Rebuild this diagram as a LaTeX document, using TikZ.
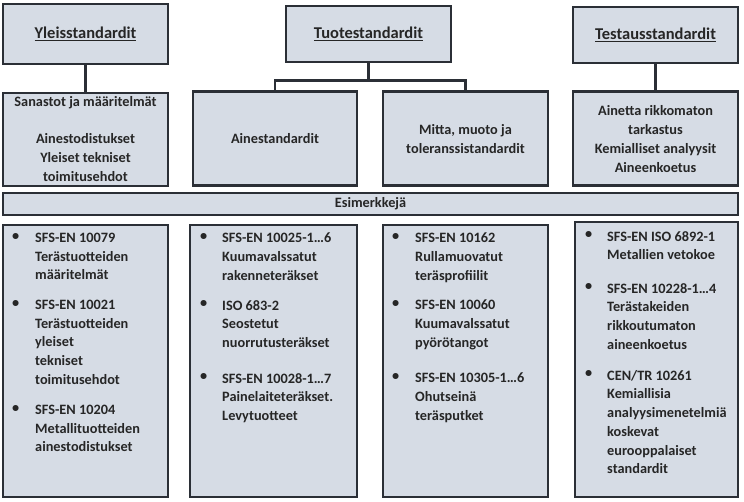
\documentclass[tikz,border=0pt]{standalone}
\usepackage{fontspec}
\setmainfont{Carlito}
\definecolor{bfill}{HTML}{D6DCE5}
\definecolor{bdraw}{HTML}{2B2F36}
\begin{document}
\begin{tikzpicture}[x=1pt,y=-1pt,
  box/.style={draw=bdraw,fill=bfill,line width=2.6pt,inner sep=0pt},
  conn/.style={draw=bdraw,line width=2.6pt},
  txt/.style={inner sep=0pt,font=\bfseries\fontsize{14.3}{18.7}\selectfont,text=black!85},
  ttl/.style={inner sep=0pt,font=\bfseries\fontsize{16.5}{18}\selectfont,text=black!85},
  itm/.style={txt,anchor=north west,align=left},
  bul/.style={txt,anchor=north west}]
\useasboundingbox (0,0) rectangle (744,502);
% top row
\node[box,minimum width=165,minimum height=60] (yl) at (85.5,34) {};
\node[box,minimum width=165,minimum height=56] (tu) at (368.5,34) {};
\node[box,minimum width=165,minimum height=56] (te) at (655.5,35) {};
\node[ttl] (ylt) at (yl.center) {\underline{Yleisstandardit}};
\node[ttl] (tut) at (tu.center) {\underline{Tuotestandardit}};
\node[ttl] (tet) at (te.center) {\underline{Testausstandardit}};
% middle row
\node[box,minimum width=165,minimum height=93] (m1) at (85.5,139.5) {};
\node[box,minimum width=164,minimum height=94] (m2) at (275,138.5) {};
\node[box,minimum width=165,minimum height=94] (m3) at (465.5,138.5) {};
\node[box,minimum width=165,minimum height=94] (m4) at (655.5,138.5) {};
\draw[conn] (yl.south) -- (m1.north);
\draw[conn] (te.south) -- (m4.north);
\draw[conn] (tu.south) -- ++(0,17) coordinate (j);
\draw[conn] (m2.north) |- (j) -| (m3.north);
\node[txt] (m1a) at (85.5,103) {Sanastot ja määritelmät};
\node[txt,align=center] (m1b) at (85.5,157.5) {Ainestodistukset\\Yleiset tekniset\\toimitusehdot};
\node[txt] (m2a) at (275,139) {Ainestandardit};
\node[txt,align=center] (m3a) at (465.5,139) {Mitta, muoto ja\\toleranssistandardit};
\node[txt,align=center] (m4a) at (655.5,139) {Ainetta rikkomaton\\tarkastus\\Kemialliset analyysit\\Aineenkoetus};
% bar
\node[box,minimum width=735,minimum height=22] (bar) at (370.5,204) {};
\node[txt] (bart) at (bar.center) {Esimerkkejä};
% bottom row
\node[box,minimum width=165,minimum height=272] (b1) at (85.5,361) {};
\node[box,minimum width=167,minimum height=272] (b2) at (273.5,361) {};
\node[box,minimum width=165,minimum height=272] (b3) at (465.5,361) {};
\node[box,minimum width=163,minimum height=275] (b4) at (656.5,359.5) {};
% column 1
\foreach \y/\t [count=\i] in {233/{SFS-EN 10079\\Terästuotteiden\\määritelmät},
  300/{SFS-EN 10021\\Terästuotteiden\\yleiset\\tekniset\\toimitusehdot},
  405/{SFS-EN 10204\\Metallituotteiden\\ainestodistukset}}{
  \node[bul] (c1b\i) at (12,\y) {•};
  \node[itm] (c1t\i) at (35,\y) {\t};}
% column 2
\foreach \y/\t [count=\i] in {233/{SFS-EN 10025-1…6\\Kuumavalssatut\\rakenneteräkset},
  300/{ISO 683-2\\Seostetut\\nuorrutusteräkset},
  373/{SFS-EN 10028-1…7\\Painelaiteteräkset.\\Levytuotteet}}{
  \node[bul] (c2b\i) at (200,\y) {•};
  \node[itm] (c2t\i) at (222,\y) {\t};}
% column 3
\foreach \y/\t [count=\i] in {233/{SFS-EN 10162\\Rullamuovatut\\teräsprofiilit},
  300/{SFS-EN 10060\\Kuumavalssatut\\pyörötangot},
  373/{SFS-EN 10305-1…6\\Ohutseinä\\teräsputket}}{
  \node[bul] (c3b\i) at (392,\y) {•};
  \node[itm] (c3t\i) at (415,\y) {\t};}
% column 4
\foreach \y/\t [count=\i] in {231/{SFS-EN ISO 6892-1\\Metallien vetokoe},
  283/{SFS-EN 10228-1…4\\Terästakeiden\\rikkoutumaton\\aineenkoetus},
  370/{CEN/TR 10261\\Kemiallisia\\analyysimenetelmiä\\koskevat\\eurooppalaiset\\standardit}}{
  \node[bul] (c4b\i) at (585,\y) {•};
  \node[itm] (c4t\i) at (607,\y) {\t};}
\end{tikzpicture}
\end{document}
